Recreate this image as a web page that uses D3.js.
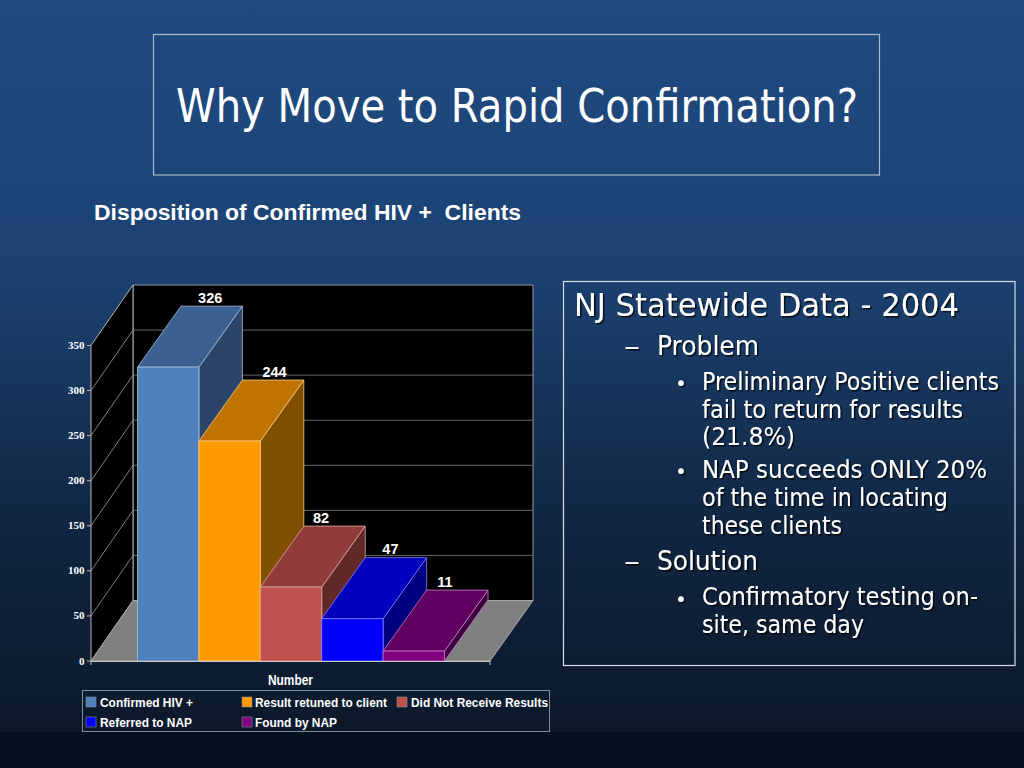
<!DOCTYPE html>
<html><head><meta charset="utf-8">
<script src="https://cdnjs.cloudflare.com/ajax/libs/d3/7.8.5/d3.min.js"></script>
<style>html,body{margin:0;padding:0;background:#000}svg{display:block}text{white-space:pre}</style></head>
<body><svg id="c" width="1024" height="768"></svg>
<script>
const categories = ["Confirmed HIV +","Result retuned to client","Did Not Receive Results","Referred to NAP","Found by NAP"];
const values = [326,244,82,47,11];
const frontColors = ["#4f81bd","#ff9900","#c0504d","#0000ff","#800080"];
const topColors = ["#3b6190","#bf7300","#8f3c3a","#0000bf","#600060"];
const sideColors = ["#2a4568","#805000","#602826","#000080","#400040"];
const edgeColors = ["#a6c0df","#ffcc80","#e0a8a6","#8080ff","#c080c0"];
const yTicks = [0,50,100,150,200,250,300,350];

const svg = d3.select("#c");
const defs = svg.append("defs");
const g = defs.append("linearGradient").attr("id","bg").attr("x1",0).attr("x2",0).attr("y1",0).attr("y2",1);
g.append("stop").attr("offset","0%").attr("stop-color","#1f4b82");
g.append("stop").attr("offset","35%").attr("stop-color","#1c4272");
g.append("stop").attr("offset","70%").attr("stop-color","#102540");
g.append("stop").attr("offset","100%").attr("stop-color","#0b1626");
const sh = defs.append("filter").attr("id","ts").attr("x","-5%").attr("y","-20%").attr("width","110%").attr("height","140%");
sh.append("feDropShadow").attr("dx",1.5).attr("dy",1.5).attr("stdDeviation",0.7).attr("flood-color","#000").attr("flood-opacity",0.8);

svg.append("rect").attr("width",1024).attr("height",768).attr("fill","url(#bg)");
svg.append("rect").attr("y",732).attr("width",1024).attr("height",36).attr("fill","#03111f");

const SANS = "'DejaVu Sans',sans-serif", ARIAL="'Liberation Sans',Arial,sans-serif", SERIF="'Liberation Serif',serif";
function text(x,y,s,size,opt={}){
  const t = svg.append("text").attr("x",x).attr("y",y).text(s).attr("font-size",size)
    .attr("fill",opt.fill||"#fff").attr("font-family",opt.family||SANS).attr("font-weight",opt.weight||"normal")
    .attr("text-anchor",opt.anchor||"start");
  if(opt.len) t.attr("textLength",opt.len).attr("lengthAdjust","spacingAndGlyphs");
  if(opt.shadow) t.attr("filter","url(#ts)");
  return t;
}

// title box
svg.append("rect").attr("x",153.5).attr("y",34.5).attr("width",726).attr("height",140.5).attr("fill","none").attr("stroke","#aeb9c9").attr("stroke-width",1.2);
text(176,122,"Why Move to Rapid Confirmation?",47,{len:682});
text(94,220,"Disposition of Confirmed HIV +  Clients",21.5,{family:ARIAL,weight:"bold",len:427});

// chart scales
const y = d3.scaleLinear().domain([0,350]).range([661,345.5]);
const x = d3.scaleBand().domain(categories).range([137.5,444.5]).paddingInner(0);
const depthX = 42, depthY = -60.5, barDX = 43.5, barDY = -61;
const labelShift = [42,45,30,38,31];
const line = d3.line();
const gc = svg.append("g");
const poly = (pts,fill,stroke,sw=1)=>gc.append("path").attr("d",line(pts)+"Z").attr("fill",fill).attr("stroke",stroke||"none").attr("stroke-width",sw);

const x0 = 91, x1 = 490;
// walls
poly([[x0+depthX,y(350)+depthY],[x1+depthX+1,y(350)+depthY],[x1+depthX+1,y(0)+depthY],[x0+depthX,y(0)+depthY]],"#000","#9a9a9a");
poly([[x0,y(350)],[x0+depthX,y(350)+depthY],[x0+depthX,y(0)+depthY],[x0,y(0)]],"#000","#b5b5b5");
// floor
poly([[x0,y(0)],[x0+depthX,y(0)+depthY],[x1+depthX+1,y(0)+depthY],[x1,y(0)]],"#808080","#a8a8a8");
// gridlines
yTicks.slice(1,-1).forEach(t=>{
  gc.append("line").attr("x1",x0).attr("y1",y(t)).attr("x2",x0+depthX).attr("y2",y(t)+depthY).attr("stroke","#a0a0a0").attr("stroke-width",0.8);
  gc.append("line").attr("x1",x0+depthX).attr("y1",y(t)+depthY).attr("x2",x1+depthX+1).attr("y2",y(t)+depthY).attr("stroke","#808080").attr("stroke-width",0.8);
});
// bars
categories.forEach((c,i)=>{
  const l = x(c), r = l + x.bandwidth(), t = y(values[i]), b = y(0);
  const e = edgeColors[i];
  poly([[r,b],[r+barDX,b+barDY],[r+barDX,t+barDY],[r,t]],sideColors[i],e,0.8);
  poly([[l,t],[l+barDX,t+barDY],[r+barDX,t+barDY],[r,t]],topColors[i],e,0.8);
});
categories.forEach((c,i)=>{
  const l = x(c), t = y(values[i]), b = y(0);
  poly([[l,t],[l+x.bandwidth(),t],[l+x.bandwidth(),b],[l,b]],frontColors[i],edgeColors[i],0.8);
});
// front axis
gc.append("line").attr("x1",x0).attr("y1",y(0)+.5).attr("x2",x1).attr("y2",y(0)+.5).attr("stroke","#c8c8c8");
gc.append("line").attr("x1",x1).attr("y1",y(0)).attr("x2",x1).attr("y2",y(0)+4).attr("stroke","#c8c8c8");
gc.append("line").attr("x1",x0).attr("y1",y(0)).attr("x2",x0).attr("y2",y(0)+4).attr("stroke","#c8c8c8");
yTicks.forEach(t=>{
  gc.append("line").attr("x1",x0-4).attr("y1",y(t)).attr("x2",x0).attr("y2",y(t)).attr("stroke","#b5b5b5");
  text(84.5,y(t)+3.5,String(t),11,{family:SERIF,weight:"bold",anchor:"end"});
});
// value labels
categories.forEach((c,i)=>{
  text(x(c)+x.bandwidth()/2+labelShift[i], y(values[i])+barDY-3.5, String(values[i]),14.5,{family:ARIAL,weight:"bold",anchor:"middle"});
});
text(268,685,"Number",14,{family:ARIAL,weight:"bold",len:45});

// legend
svg.append("rect").attr("x",82.5).attr("y",690.5).attr("width",467).attr("height",41).attr("fill","none").attr("stroke","#7f8c9c");
const legX = [86,242,397,86,242], legY = [697,697,697,717,717], legW=[93,132,137,92,82], legT=[100,255,411,100,255];
categories.forEach((c,i)=>{
  svg.append("rect").attr("x",legX[i]).attr("y",legY[i]).attr("width",10).attr("height",10).attr("fill",frontColors[i]).attr("stroke","#8a8a8a").attr("stroke-width",.6);
  text(legT[i],legY[i]+10.3,c,13.5,{family:ARIAL,weight:"bold",len:legW[i]});
});

// text box
svg.append("rect").attr("x",563.5).attr("y",281.5).attr("width",451.5).attr("height",384).attr("fill","none").attr("stroke","#d5dbe4").attr("stroke-width",1.2);
const bullets = [
 [574,316,"NJ Statewide Data - 2004",31.5,385],
 [657,355,"Problem",26,102],
 [702,390,"Preliminary Positive clients",24,297],
 [702,417.5,"fail to return for results",24,261],
 [702,445,"(21.8%)",24,93],
 [702,478,"NAP succeeds ONLY 20%",24,285],
 [702,506,"of the time in locating",24,246],
 [702,533.5,"these clients",24,140],
 [657,570,"Solution",26,101],
 [702,605,"Confirmatory testing on-",24,276],
 [702,633,"site, same day",24,162]
];
bullets.forEach(b=>text(b[0],b[1],b[2],b[3],{len:b[4],shadow:true}));
[[624,355],[624,570]].forEach(p=>text(p[0],p[1],"–",26,{len:16,shadow:true}));
[[675,390],[675,478],[675,606]].forEach(p=>text(p[0],p[1],"•",20,{shadow:true}));
</script></body></html>
